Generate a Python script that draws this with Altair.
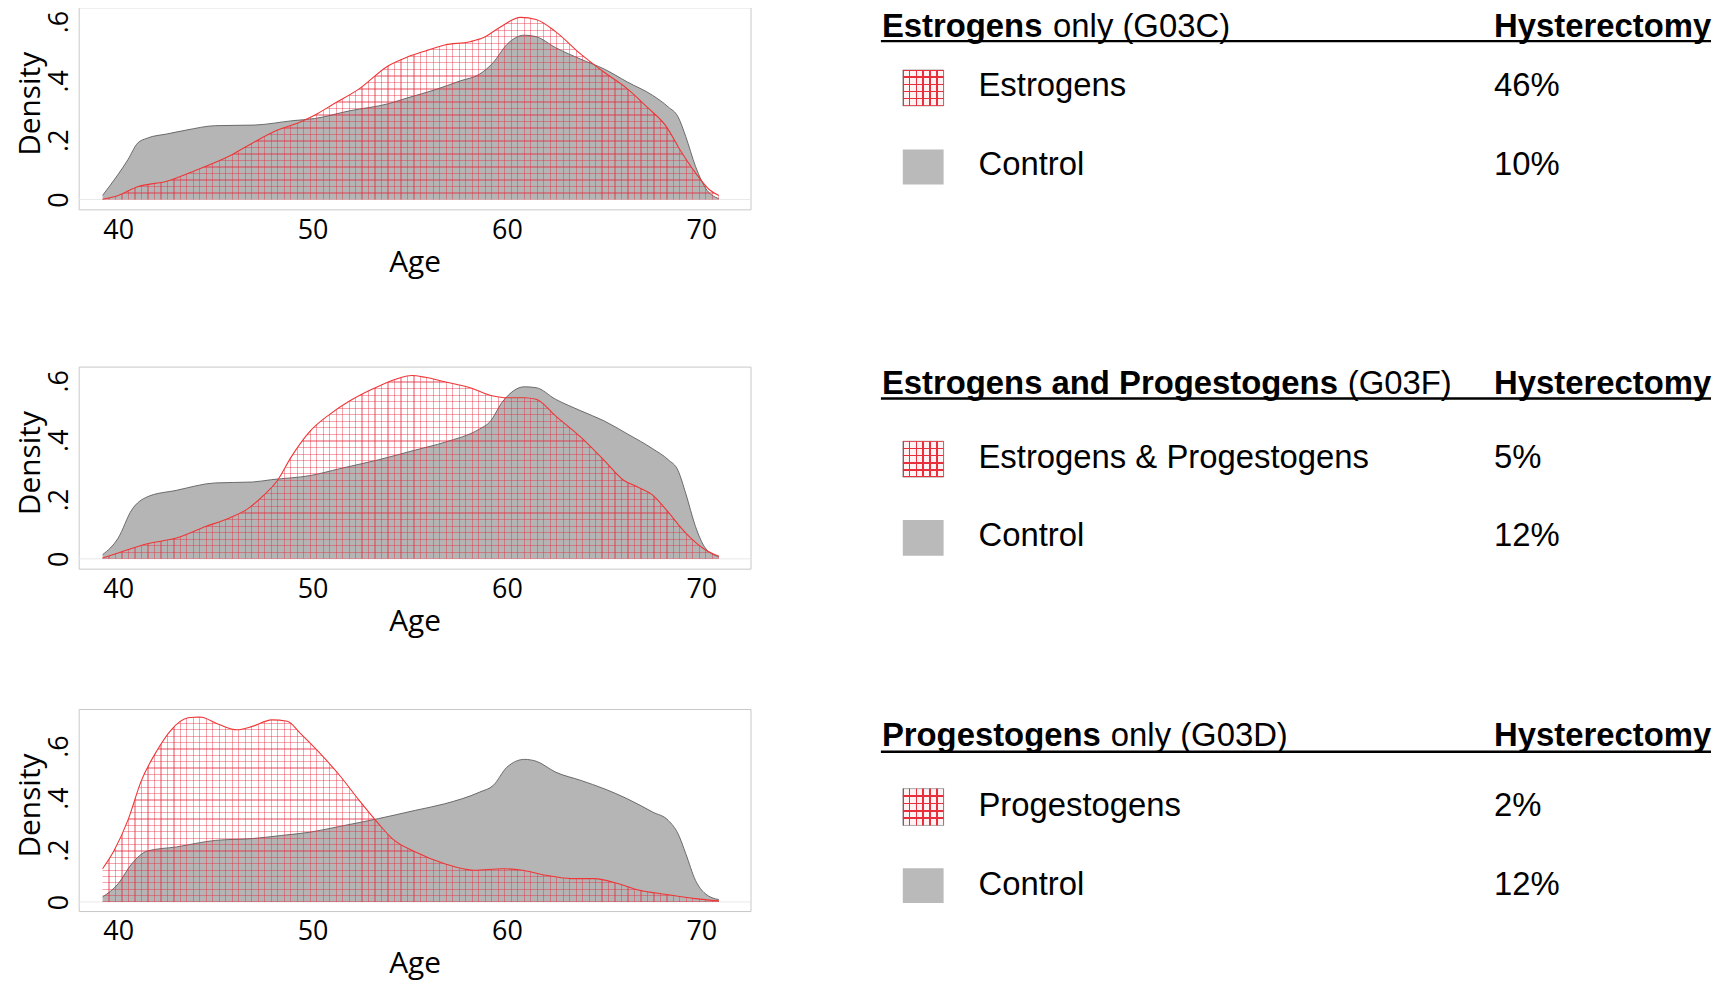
import altair as alt
import pandas as pd

# ---------------- values ----------------
age_ticks = [40, 50, 60, 70]
density_ticks = [0, 0.2, 0.4, 0.6]

# Panel 1: Estrogens only (G03C)
p1_control_age = [39.2, 40.0, 40.5, 41.0, 41.5, 42.5, 43.5, 45.0, 47.0, 49.0, 50.1, 51.9, 53.9, 54.9, 56.3, 57.6,
                  58.6, 59.3, 60.0, 60.9, 61.5, 62.5, 63.8, 65.0, 66.2, 67.5, 68.3, 68.8, 69.2, 69.7, 70.2, 70.9]
p1_control_den = [0.014, 0.085, 0.134, 0.19, 0.207, 0.221, 0.234, 0.249, 0.251, 0.266, 0.273, 0.299, 0.323, 0.343,
                  0.37, 0.40, 0.423, 0.462, 0.523, 0.554, 0.549, 0.512, 0.473, 0.44, 0.396, 0.351, 0.312, 0.279,
                  0.212, 0.112, 0.04, 0.003]
p1_treated_age = [39.2, 40.0, 41.0, 42.5, 44.0, 45.7, 46.9, 48.2, 49.4, 50.1, 51.1, 52.4, 53.9, 54.9, 55.8, 56.8,
                  58.1, 58.8, 59.6, 60.7, 61.5, 62.5, 63.8, 65.0, 66.2, 67.2, 68.2, 68.9, 69.7, 70.4, 70.9]
p1_treated_den = [0.001, 0.014, 0.043, 0.062, 0.099, 0.146, 0.19, 0.234, 0.262, 0.284, 0.323, 0.373, 0.451, 0.481,
                  0.501, 0.521, 0.532, 0.546, 0.579, 0.614, 0.607, 0.566, 0.49, 0.429, 0.373, 0.312, 0.246, 0.168,
                  0.09, 0.034, 0.014]

# Panel 2: Estrogens and Progestogens (G03F)
p2_control_age = [39.2, 40.0, 40.7, 41.5, 43.0, 45.0, 46.9, 47.9, 49.9, 51.4, 53.4, 55.3, 56.8, 58.6, 59.1, 59.8,
                  60.9, 61.5, 62.5, 63.8, 65.0, 66.2, 67.5, 68.3, 68.8, 69.2, 69.7, 70.2, 70.9]
p2_control_den = [0.014, 0.07, 0.165, 0.209, 0.231, 0.256, 0.259, 0.267, 0.281, 0.304, 0.334, 0.367, 0.393, 0.438,
                  0.46, 0.532, 0.58, 0.577, 0.538, 0.499, 0.465, 0.421, 0.371, 0.334, 0.298, 0.22, 0.109, 0.037,
                  0.007]
p2_treated_age = [39.2, 40.0, 41.5, 43.0, 44.5, 45.7, 46.7, 47.4, 48.2, 48.9, 49.9, 50.9, 51.9, 53.4, 54.4, 55.1,
                  55.8, 56.8, 58.1, 59.3, 60.0, 60.9, 61.5, 62.5, 63.8, 65.0, 66.0, 66.7, 67.5, 68.2, 69.2, 70.2,
                  70.9]
p2_treated_den = [0.003, 0.02, 0.051, 0.07, 0.109, 0.137, 0.17, 0.209, 0.265, 0.343, 0.432, 0.488, 0.532, 0.582,
                  0.608, 0.618, 0.612, 0.597, 0.577, 0.549, 0.543, 0.543, 0.538, 0.482, 0.41, 0.332, 0.265, 0.243,
                  0.215, 0.165, 0.087, 0.031, 0.009]

# Panel 3: Progestogens only (G03D)
p3_control_age = [39.2, 40.0, 40.7, 41.5, 43.0, 45.0, 46.9, 48.4, 49.9, 51.4, 53.4, 55.3, 56.8, 58.6, 59.3, 60.0,
                  60.9, 61.5, 62.5, 63.8, 65.0, 66.2, 67.5, 68.3, 68.8, 69.2, 69.7, 70.2, 70.9]
p3_control_den = [0.019, 0.07, 0.147, 0.196, 0.212, 0.237, 0.244, 0.256, 0.269, 0.291, 0.321, 0.353, 0.378, 0.423,
                  0.449, 0.519, 0.549, 0.542, 0.5, 0.468, 0.436, 0.397, 0.346, 0.314, 0.263, 0.186, 0.083, 0.032,
                  0.009]
p3_treated_age = [39.2, 39.8, 40.5, 41.2, 42.0, 42.7, 43.6, 44.2, 45.2, 46.1, 46.9, 47.9, 48.7, 49.4, 50.4, 51.4,
                  52.4, 53.4, 54.1, 55.3, 56.8, 58.3, 59.8, 60.8, 62.0, 63.3, 64.5, 65.7, 66.7, 68.2, 69.7, 70.9]
p3_treated_den = [0.128, 0.199, 0.314, 0.468, 0.583, 0.66, 0.709, 0.712, 0.683, 0.663, 0.676, 0.701, 0.696, 0.647,
                  0.571, 0.487, 0.391, 0.301, 0.244, 0.192, 0.147, 0.122, 0.128, 0.122, 0.103, 0.09, 0.09, 0.071,
                  0.047, 0.029, 0.013, 0.004]

group_bold = ["Estrogens", "Estrogens and Progestogens", "Progestogens"]
group_rest = ["only (G03C)", "(G03F)", "only (G03D)"]
treated_labels = ["Estrogens", "Estrogens & Progestogens", "Progestogens"]
control_label = "Control"
header_label = "Hysterectomy"
treated_pct = ["46%", "5%", "2%"]
control_pct = ["10%", "12%", "12%"]

# ---------------- layout / style ----------------
AX_FONT = "Open Sans"
LEG_FONT = "Liberation Sans"
PLOT_W, PLOT_H = 675, 203
X_DOM = [37.97, 72.53]
Y_DOMS = [[-0.033, 0.648], [-0.033, 0.648], [-0.035, 0.743]]
PAD_LEFT = 7
PAD_TOP = -4
ROW_TOP = [8, 367, 709]
LEG_H = [ROW_TOP[1] - ROW_TOP[0], ROW_TOP[2] - ROW_TOP[1], 230]
LEG_X0 = 752
LEG_W = 961
TITLE_X = 882
HEAD_X = 1497
UL_X = (881, 1715)
ICON_X = (903, 944)
LABEL_X = 979
PCT_X = 1497
LEG_POS = [
    dict(ty=38, uy=42, rows=(97, 177), icons=((71, 107), (151, 186)), rest_x=1054),
    dict(ty=395, uy=399, rows=(469, 547), icons=((442, 478), (521, 557)), rest_x=1350),
    dict(ty=746, uy=752, rows=(817, 896), icons=((789, 826), (869, 904)), rest_x=1112),
]
GRAY = "#b5b5b5"
GRAY_LINE = "#5e5e5e"
RED_LINE = "#f03535"
HATCH = "rgba(230,40,60,0.42)"
CLEAR = "rgba(255,255,255,0)"


def stripes(n, frac, color, vertical):
    stops = [alt.GradientStop(color=CLEAR, offset=0.0)]
    h = frac / 2.0
    for k in range(n + 1):
        c = k / n
        a = round(max(0.0, c - h), 5)
        b = round(min(1.0, c + h), 5)
        stops += [alt.GradientStop(color=CLEAR, offset=a), alt.GradientStop(color=color, offset=a),
                  alt.GradientStop(color=color, offset=b), alt.GradientStop(color=CLEAR, offset=b)]
    stops.append(alt.GradientStop(color=CLEAR, offset=1.0))
    if vertical:
        return alt.LinearGradient(gradient="linear", stops=stops, x1=0, y1=0, x2=1, y2=0)
    return alt.LinearGradient(gradient="linear", stops=stops, x1=0, y1=0, x2=0, y2=1)


def panel(ca, cd, ta, td, ydom):
    ctrl = pd.DataFrame({"age": ca, "den": cd})
    trt = pd.DataFrame({"age": ta, "den": td})
    xs = alt.Scale(domain=X_DOM, nice=False, zero=False)
    ys = alt.Scale(domain=ydom, nice=False, zero=False)
    xax = alt.Axis(values=age_ticks, title="Age", labelFlush=False, domain=False, ticks=False, grid=False,
                   labelFont=AX_FONT, labelFontSize=27, labelColor="black", labelPadding=8,
                   titleFont=AX_FONT, titleFontSize=30, titleFontWeight="normal", titleColor="black",
                   titlePadding=4)
    yax = alt.Axis(values=density_ticks, title="Density", domain=False, ticks=False, grid=False,
                   labelExpr="datum.value == 0 ? '0' : '.' + round(datum.value * 10)",
                   labelAngle=270, labelAlign="center", labelBaseline="alphabetic", labelPadding=11,
                   labelOffset=0, labelFont=AX_FONT, labelFontSize=27, labelColor="black",
                   titleFont=AX_FONT, titleFontSize=30, titleFontWeight="normal", titleColor="black",
                   titlePadding=0, titleY=PLOT_H / 2 - 5)
    X = alt.X("age:Q", scale=xs, axis=xax)
    Y = alt.Y("den:Q", scale=ys, axis=yax)

    px_per_year = PLOT_W / (X_DOM[1] - X_DOM[0])
    px_per_unit = PLOT_H / (ydom[1] - ydom[0])
    bw = (max(ta) - min(ta)) * px_per_year
    bh = max(td) * px_per_unit
    nv = max(1, round(bw / 6.5))
    nh = max(1, round(bh / 6.5))
    grad_v = stripes(nv, 1.15 / bw, HATCH, True)
    grad_h = stripes(nh, 1.15 / bh, HATCH, False)

    zero = alt.Chart(pd.DataFrame({"den": [0]})).mark_rule(color="#e8e8e8", strokeWidth=1).encode(y=Y)
    g_area = alt.Chart(ctrl).mark_area(fill=GRAY, opacity=1, interpolate="monotone").encode(x=X, y=Y)
    g_line = alt.Chart(ctrl).mark_line(color=GRAY_LINE, strokeWidth=0.9, interpolate="monotone").encode(x=X, y=Y)
    r_v = alt.Chart(trt).mark_area(fill=grad_v, opacity=1, interpolate="monotone").encode(x=X, y=Y)
    r_h = alt.Chart(trt).mark_area(fill=grad_h, opacity=1, interpolate="monotone").encode(x=X, y=Y)
    r_line = alt.Chart(trt).mark_line(color=RED_LINE, strokeWidth=1.1, interpolate="monotone").encode(x=X, y=Y)
    return alt.layer(zero, g_area, g_line, r_v, r_h, r_line).properties(
        width=PLOT_W, height=PLOT_H, view=alt.ViewBackground(stroke="#c8c8c8", strokeWidth=1))


def legend(i):
    top, H, P = ROW_TOP[i], LEG_H[i], LEG_POS[i]
    xs = alt.Scale(domain=[LEG_X0, LEG_X0 + LEG_W], range=[0, LEG_W], nice=False, zero=False)
    ys = alt.Scale(domain=[top, top + H], range=[0, H], nice=False, zero=False)
    X = alt.X("x:Q", scale=xs, axis=None)
    Y = alt.Y("y:Q", scale=ys, axis=None)
    X2 = alt.X2("x2:Q")
    Y2 = alt.Y2("y2:Q")

    ul = alt.Chart(pd.DataFrame({"x": [UL_X[0]], "x2": [UL_X[1]], "y": [P["uy"]]})).mark_rule(
        color="black", strokeWidth=2.4).encode(x=X, x2=X2, y=Y)
    bold = alt.Chart(pd.DataFrame({"x": [TITLE_X, HEAD_X], "y": [P["ty"], P["ty"]],
                                   "t": [group_bold[i], header_label]})).mark_text(
        align="left", baseline="alphabetic", font=LEG_FONT, fontWeight="bold", fontSize=33, color="black"
    ).encode(x=X, y=Y, text="t:N")
    rest = alt.Chart(pd.DataFrame({"x": [P["rest_x"]], "y": [P["ty"]], "t": [group_rest[i]]})).mark_text(
        align="left", baseline="alphabetic", font=LEG_FONT, fontSize=33, color="black"
    ).encode(x=X, y=Y, text="t:N")
    r1, r2 = P["rows"]
    rows = alt.Chart(pd.DataFrame({"x": [LABEL_X, PCT_X, LABEL_X, PCT_X], "y": [r1, r1, r2, r2],
                                   "t": [treated_labels[i], treated_pct[i], control_label, control_pct[i]]})
                     ).mark_text(align="left", baseline="alphabetic", font=LEG_FONT, fontSize=33,
                                 color="black").encode(x=X, y=Y, text="t:N")
    (t0, t1), (c0, c1) = P["icons"]
    tdf = pd.DataFrame({"x": [ICON_X[0]], "x2": [ICON_X[1]], "y": [t0], "y2": [t1]})
    cdf = pd.DataFrame({"x": [ICON_X[0]], "x2": [ICON_X[1]], "y": [c0], "y2": [c1]})
    c_icon = alt.Chart(cdf).mark_rect(fill="#bababa").encode(x=X, x2=X2, y=Y, y2=Y2)
    t_base = alt.Chart(tdf).mark_rect(fill="#fff2f3", stroke="#a8a8a8", strokeWidth=1).encode(
        x=X, x2=X2, y=Y, y2=Y2)
    iw = ICON_X[1] - ICON_X[0]
    ih = t1 - t0
    t_v = alt.Chart(tdf).mark_rect(fill=stripes(6, 1.6 / iw, "#e8303c", True)).encode(x=X, x2=X2, y=Y, y2=Y2)
    t_h = alt.Chart(tdf).mark_rect(fill=stripes(5, 1.6 / ih, "#e8303c", False)).encode(x=X, x2=X2, y=Y, y2=Y2)
    return alt.layer(ul, bold, rest, rows, c_icon, t_base, t_v, t_h).properties(
        width=LEG_W, height=H, view=alt.ViewBackground(stroke="transparent"))


panels = [
    panel(p1_control_age, p1_control_den, p1_treated_age, p1_treated_den, Y_DOMS[0]),
    panel(p2_control_age, p2_control_den, p2_treated_age, p2_treated_den, Y_DOMS[1]),
    panel(p3_control_age, p3_control_den, p3_treated_age, p3_treated_den, Y_DOMS[2]),
]
rows = [alt.hconcat(panels[i], legend(i), spacing=0) for i in range(3)]
chart = alt.vconcat(*rows, spacing=0).properties(
    padding={"left": PAD_LEFT, "top": PAD_TOP, "right": 0, "bottom": 0}).configure(background="white")

chart.save("out.html", embed_options={"renderer": "svg", "actions": False})
